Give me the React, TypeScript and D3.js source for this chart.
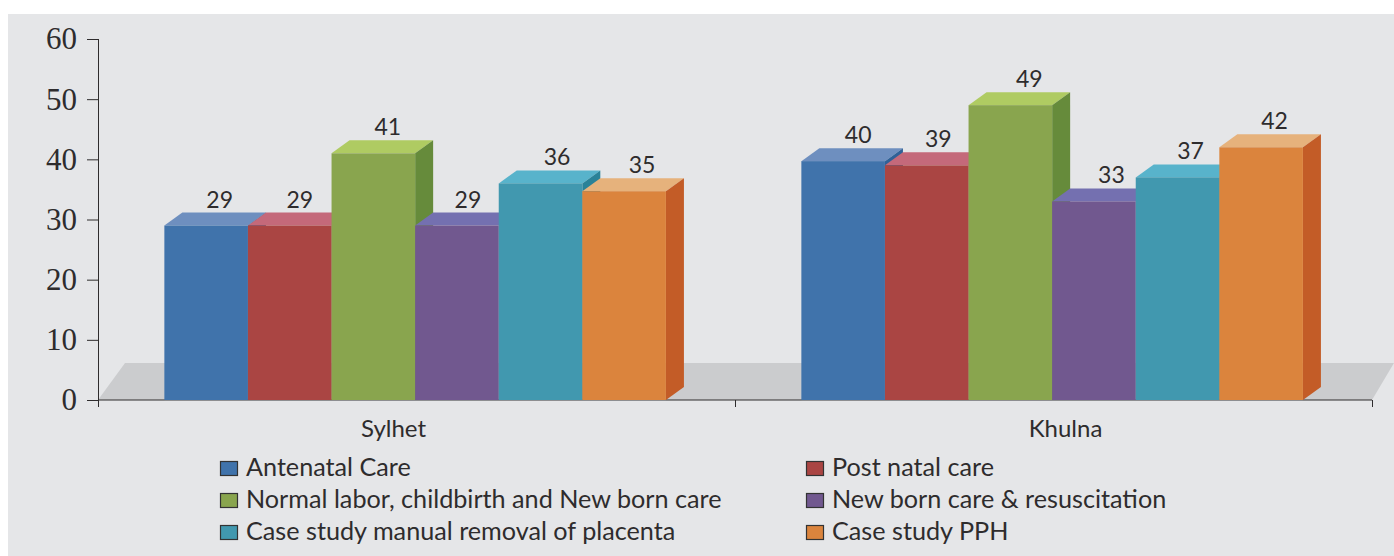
import React, { useEffect, useRef } from "react";
import * as d3 from "d3";

const categories = ["Sylhet", "Khulna"];
const series = [
  "Antenatal Care",
  "Post natal care",
  "Normal labor, childbirth and New born care",
  "New born care & resuscitation",
  "Case study manual removal of placenta",
  "Case study PPH",
];
// bar heights as drawn, the printed labels are these rounded
const sylhetValues = [29, 29, 41, 29, 36, 34.7];
const khulnaValues = [39.7, 39, 49, 33, 37, 42];
const yTicks = [0, 10, 20, 30, 40, 50, 60];

const frontColors = ["#4073ab", "#aa4543", "#89a54e", "#71588f", "#4198af", "#db843d"];
const topColors = ["#6e8fbf", "#c4697a", "#afcb62", "#7470b0", "#58b3cb", "#e6b27c"];
const sideColors = ["#2f6197", "#8e3533", "#668b3b", "#5a4478", "#2a8298", "#c35c27"];

const App: React.FC = () => {
  const svgRef = useRef<SVGSVGElement | null>(null);

  useEffect(() => {
    const svg = d3.select(svgRef.current);
    svg.selectAll("*").remove();

    const w = 1394;
    const h = 556;
    const m = { top: 39, left: 98, right: 22, bottom: 156 };
    const depth = { x: 18, y: 13 };
    const floor = { x: 27, y: 37 };
    const sansFont = "Lato, sans-serif";
    const ink = "#2e2c2d";

    const x0 = d3.scaleBand().domain(categories).range([m.left, w - m.right]);
    const x1 = d3
      .scaleBand()
      .domain(series)
      .range([0, x0.bandwidth()])
      .paddingInner(0)
      .paddingOuter(0.81)
      .align(0.49);
    const y = d3.scaleLinear().domain([0, 60]).range([h - m.bottom, m.top]);
    const y0 = y(0);

    // page background
    svg
      .append("rect")
      .attr("x", 8)
      .attr("y", 14)
      .attr("width", w - 8)
      .attr("height", h - 14)
      .attr("fill", "#e5e6e8");

    // floor of the 3d box
    svg
      .append("polygon")
      .attr(
        "points",
        [
          [m.left, y0],
          [m.left + floor.x, y0 - floor.y],
          [w, y0 - floor.y],
          [w - m.right, y0],
        ].join(" ")
      )
      .attr("fill", "#cbccce");

    // axes
    const yAxis = svg
      .append("g")
      .attr("transform", `translate(${m.left + 1}, 0)`)
      .call(d3.axisLeft(y).tickValues(yTicks).tickSize(12).tickPadding(10));
    yAxis.select(".domain").attr("d", `M-0.5,${m.top}V${y0 + 7}`);
    yAxis
      .selectAll("text")
      .style("font-family", "'Liberation Serif', serif")
      .style("font-size", "31px")
      .attr("fill", ink);

    const xAxis = svg.append("g").attr("transform", `translate(0, ${y0})`);
    xAxis
      .append("path")
      .attr("d", `M${m.left},0H${w - m.right}`)
      .attr("stroke", ink)
      .attr("fill", "none");
    xAxis
      .selectAll("line")
      .data([m.left, x0("Khulna")!, w - m.right])
      .enter()
      .append("line")
      .attr("x1", (d) => d + 0.5)
      .attr("x2", (d) => d + 0.5)
      .attr("y1", 0)
      .attr("y2", 7)
      .attr("stroke", ink);
    svg.selectAll(".domain, .tick line").attr("stroke", ink);

    const rows = categories.map((c, i) => ({
      category: c,
      values: i === 0 ? sylhetValues : khulnaValues,
    }));

    // bars, left to right so that each one covers the side of the one before
    rows.forEach((row) => {
      row.values.forEach((v, i) => {
        const left = x0(row.category)! + x1(series[i])!;
        const right = left + x1.bandwidth();
        const top = y(v);
        const g = svg.append("g");
        g.append("polygon")
          .attr(
            "points",
            [
              [left, top],
              [left + depth.x, top - depth.y],
              [right + depth.x, top - depth.y],
              [right, top],
            ].join(" ")
          )
          .attr("fill", topColors[i]);
        g.append("polygon")
          .attr(
            "points",
            [
              [right, top],
              [right + depth.x, top - depth.y],
              [right + depth.x, y0 - depth.y],
              [right, y0],
            ].join(" ")
          )
          .attr("fill", sideColors[i]);
        g.append("rect")
          .attr("x", left)
          .attr("y", top)
          .attr("width", x1.bandwidth())
          .attr("height", y0 - top)
          .attr("fill", frontColors[i]);
      });
    });

    // grey line along the foot of the bars
    rows.forEach((row) => {
      svg
        .append("line")
        .attr("x1", x0(row.category)! + x1(series[0])!)
        .attr("x2", x0(row.category)! + x1(series[series.length - 1])! + x1.bandwidth())
        .attr("y1", y0 + 0.5)
        .attr("y2", y0 + 0.5)
        .attr("stroke", "#8d8e90");
    });

    // value labels, hand placed in the original so they wander a bit
    const labelNudge = [
      [13.5, 10, 14.5, 11, 16.5, 18],
      [15, 11.5, 19, 17.5, 13, 13.5],
    ];
    rows.forEach((row, r) => {
      row.values.forEach((v, i) => {
        svg
          .append("text")
          .attr("x", x0(row.category)! + x1(series[i])! + x1.bandwidth() / 2 + labelNudge[r][i])
          .attr("y", y(v) - depth.y - 5)
          .attr("text-anchor", "middle")
          .style("font-family", sansFont)
          .style("font-size", "23px")
          .attr("fill", ink)
          .text(Math.round(v));
      });
    });

    // category labels sit off centre in the original
    const categoryNudge = [-23, 12];
    categories.forEach((c, i) => {
      svg
        .append("text")
        .attr("x", x0(c)! + x0.bandwidth() / 2 + categoryNudge[i])
        .attr("y", 437)
        .attr("text-anchor", "middle")
        .style("font-family", sansFont)
        .style("font-size", "24px")
        .attr("fill", ink)
        .text(c);
    });

    // legend
    const legendX = [220, 806];
    const legendY = [469, 501, 533];
    series.forEach((s, i) => {
      const lx = legendX[i % 2];
      const ly = legendY[Math.floor(i / 2)];
      svg
        .append("rect")
        .attr("x", lx + 0.5)
        .attr("y", ly - 7.5)
        .attr("width", 17)
        .attr("height", 14)
        .attr("fill", frontColors[i])
        .attr("stroke", "#333")
        .attr("stroke-width", 1.2);
      svg
        .append("text")
        .attr("x", lx + 26)
        .attr("y", ly + 7)
        .style("font-family", sansFont)
        .style("font-size", "25.2px")
        .attr("fill", ink)
        .text(s);
    });
  }, []);

  return (
    <svg
      ref={svgRef}
      width={1394}
      height={556}
      style={{ position: "absolute", left: 0, top: 0, display: "block", background: "#fff" }}
    />
  );
};

export default App;
